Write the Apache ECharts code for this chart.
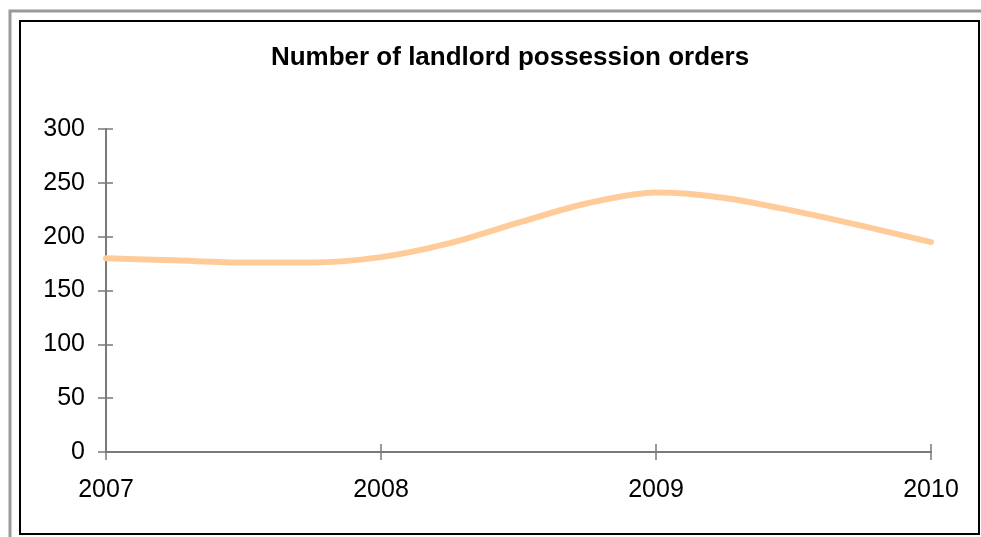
<!DOCTYPE html>
<html>
<head>
<meta charset="utf-8">
<script src="https://cdn.jsdelivr.net/npm/echarts@6/dist/echarts.min.js"></script>
<style>
  html, body { margin: 0; padding: 0; background: #fff; }
  #chart { width: 981px; height: 537px; }
</style>
</head>
<body>
<div id="chart"></div>
<script>
// Quarterly counts of landlord possession orders, 2007 Q1 to 2010 Q1
const quarters = ['2007 Q1', '2007 Q2', '2007 Q3', '2007 Q4',
                  '2008 Q1', '2008 Q2', '2008 Q3', '2008 Q4',
                  '2009 Q1', '2009 Q2', '2009 Q3', '2009 Q4',
                  '2010 Q1'];
const orders = [180, 178, 176, 176, 181, 194, 213, 231, 241, 236, 224, 210, 195];
const yTicks = [0, 50, 100, 150, 200, 250, 300];

const FONT = '"Liberation Sans", Arial, sans-serif';
const AXIS_GREY = '#7a7a7a';

const chart = echarts.init(document.getElementById('chart'), null, { renderer: 'canvas' });

const yAxisBase = {
  type: 'value',
  min: yTicks[0],
  max: yTicks[yTicks.length - 1],
  interval: yTicks[1] - yTicks[0],
  splitLine: { show: false }
};
const xAxisBase = {
  type: 'category',
  data: quarters,
  boundaryGap: false,
  splitLine: { show: false }
};

chart.setOption({
  backgroundColor: '#ffffff',
  animation: false,
  title: {
    text: 'Number of landlord possession orders',
    left: 505,
    top: 40,
    textAlign: 'center',
    textStyle: { fontFamily: FONT, fontSize: 26, fontWeight: 'bold', color: '#000' }
  },
  grid: { left: 106, right: 50, top: 129, bottom: 85 },
  xAxis: [
    Object.assign({}, xAxisBase, {
      axisLine: { show: true, lineStyle: { color: AXIS_GREY, width: 2 } },
      axisTick: { show: true, interval: 3, length: 8, lineStyle: { color: AXIS_GREY, width: 1.5 } },
      axisLabel: {
        interval: 3, margin: 26, color: '#000', fontFamily: FONT, fontSize: 25,
        formatter: v => v.slice(0, 4)
      }
    }),
    Object.assign({}, xAxisBase, {
      position: 'bottom',
      axisLine: { show: false },
      axisTick: { show: true, inside: true, interval: 3, length: 8, lineStyle: { color: AXIS_GREY, width: 1.5 } },
      axisLabel: { show: false }
    })
  ],
  yAxis: [
    Object.assign({}, yAxisBase, {
      axisLine: { show: true, lineStyle: { color: AXIS_GREY, width: 2 } },
      axisTick: { show: true, length: 8, lineStyle: { color: AXIS_GREY, width: 1.5 } },
      axisLabel: { margin: 21, color: '#000', fontFamily: FONT, fontSize: 25 }
    }),
    Object.assign({}, yAxisBase, {
      position: 'left',
      axisLine: { show: false },
      axisTick: { show: true, inside: true, length: 7, lineStyle: { color: AXIS_GREY, width: 1.5 } },
      axisLabel: { show: false }
    })
  ],
  series: [{
    type: 'line',
    data: orders,
    smooth: 0.3,
    symbol: 'none',
    lineStyle: { color: '#FFCC99', width: 6, cap: 'round', join: 'round' }
  }],
  graphic: [
    {
      type: 'rect', silent: true, z: 100,
      shape: { x: 10, y: 11, width: 1000, height: 600 },
      style: { fill: null, stroke: '#9a9a9a', lineWidth: 3 }
    },
    {
      type: 'rect', silent: true, z: 100,
      shape: { x: 20, y: 21, width: 959, height: 513 },
      style: { fill: null, stroke: '#000', lineWidth: 2 }
    }
  ]
});
</script>
</body>
</html>
